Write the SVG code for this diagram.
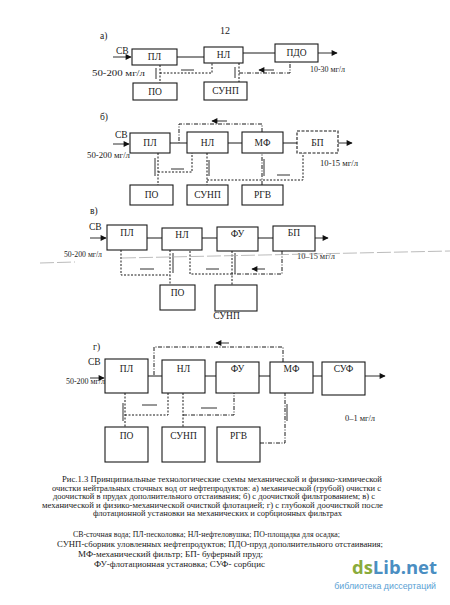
<svg xmlns="http://www.w3.org/2000/svg" width="450" height="605" viewBox="0 0 450 605">
<defs>
<marker id="ah" viewBox="0 0 10 10" refX="9" refY="5" markerUnits="userSpaceOnUse" markerWidth="7" markerHeight="6" orient="auto"><path d="M0,0 L10,5 L0,10 z" fill="#111"/></marker>
</defs>
<style>
text{font-family:"Liberation Serif","Times New Roman",serif;fill:#1a1a1a}
.b rect{fill:none;stroke:#1a1a1a;stroke-width:1.1}
.bd rect{stroke-dasharray:3,1.5}
.lb{font-size:9.5px;text-anchor:middle}
.sm{font-size:8px}
.cap{font-size:8.1px}
.ln{fill:none;stroke:#1a1a1a;stroke-width:1}
.ar{fill:none;stroke:#1a1a1a;stroke-width:0.9;marker-end:url(#ah)}
.dt{fill:none;stroke:#1a1a1a;stroke-width:1;stroke-dasharray:2,1.5}
.dd{fill:none;stroke:#1a1a1a;stroke-width:1;stroke-dasharray:4,1.5,1,1.5}
.fold{fill:none;stroke:#aaa;stroke-width:0.8;stroke-dasharray:14,3}
</style>
<rect width="450" height="605" fill="#fff"/>
<text x="225" y="34" style="font-size:10px;text-anchor:middle">12</text>

<!-- a) -->
<text x="100" y="39" style="font-size:9.5px">а)</text>
<text x="116" y="54" style="font-size:9.5px">СВ</text>
<text x="92" y="76" class="sm" textLength="53" lengthAdjust="spacingAndGlyphs">50-200 мг/л</text>
<text x="310" y="72" class="sm" textLength="35" lengthAdjust="spacingAndGlyphs">10-30 мг/л</text>
<g id="a-pl" class="b"><rect x="132" y="49" width="45" height="16"/><text class="lb" x="154.5" y="60">ПЛ</text></g>
<g id="a-nl" class="b"><rect x="204" y="47" width="39" height="16"/><text class="lb" x="223.5" y="58">НЛ</text></g>
<g id="a-pdo" class="b"><rect x="275" y="44" width="43" height="18"/><text class="lb" x="296.5" y="56">ПДО</text></g>
<g id="a-po" class="b"><rect x="133" y="83" width="44" height="17"/><text class="lb" x="155" y="95">ПО</text></g>
<g id="a-sunp" class="b"><rect x="204" y="82" width="43" height="18"/><text class="lb" x="225.5" y="94">СУНП</text></g>

<!-- b) -->
<text x="100" y="120" style="font-size:9.5px">б)</text>
<text x="115" y="138" style="font-size:9.5px">СВ</text>
<text x="87" y="158" class="sm" textLength="43" lengthAdjust="spacingAndGlyphs">50-200  мг/л</text>
<text x="320" y="166" class="sm" textLength="38" lengthAdjust="spacingAndGlyphs">10-15 мг/л</text>
<g id="b-pl" class="b"><rect x="130" y="133" width="40" height="20"/><text class="lb" x="150" y="146">ПЛ</text></g>
<g id="b-nl" class="b"><rect x="187" y="132" width="41" height="21"/><text class="lb" x="207.5" y="146">НЛ</text></g>
<g id="b-mf" class="b"><rect x="242" y="132" width="41" height="21"/><text class="lb" x="262.5" y="146">МФ</text></g>
<g id="b-bp" class="b bd"><rect x="297" y="131" width="41" height="22"/><text class="lb" x="317.5" y="146">БП</text></g>
<g id="b-po" class="b"><rect x="130" y="185" width="43" height="20"/><text class="lb" x="151.5" y="198">ПО</text></g>
<g id="b-sunp" class="b"><rect x="187" y="185" width="41" height="20"/><text class="lb" x="207.5" y="198">СУНП</text></g>
<g id="b-rgv" class="b"><rect x="242" y="185" width="41" height="20"/><text class="lb" x="262.5" y="198">РГВ</text></g>

<!-- v) -->
<text x="90" y="214" style="font-size:9.5px">в)</text>
<text x="89" y="230" style="font-size:9.5px">СВ</text>
<text x="64" y="257" class="sm" textLength="38" lengthAdjust="spacingAndGlyphs">50-200 мг/л</text>
<text x="297" y="259" class="sm" textLength="38" lengthAdjust="spacingAndGlyphs">10–15 мг/л</text>
<g id="v-pl" class="b"><rect x="107" y="225" width="40" height="25"/><text class="lb" x="127" y="236">ПЛ</text></g>
<g id="v-nl" class="b"><rect x="162" y="228" width="40" height="22"/><text class="lb" x="182" y="238">НЛ</text></g>
<g id="v-fu" class="b"><rect x="217" y="227" width="41" height="24"/><text class="lb" x="237.5" y="237">ФУ</text></g>
<g id="v-bp" class="b"><rect x="273" y="226" width="42" height="25"/><text class="lb" x="294" y="236">БП</text></g>
<g id="v-po" class="b"><rect x="160" y="285" width="35" height="25"/><text class="lb" x="177.5" y="296">ПО</text></g>
<g id="v-sunp" class="b"><rect x="215" y="285" width="42" height="26"/><text class="lb" x="226.5" y="319">СУНП</text></g>

<!-- g) -->
<text x="93" y="350" style="font-size:9.5px">г)</text>
<text x="88" y="365" style="font-size:9.5px">СВ</text>
<text x="66" y="384" class="sm" textLength="39" lengthAdjust="spacingAndGlyphs">50-200 мг/л</text>
<text x="345" y="421" class="sm" textLength="30" lengthAdjust="spacingAndGlyphs">0–1 мг/л</text>
<g id="g-pl" class="b"><rect x="105" y="359" width="43" height="34"/><text class="lb" x="126.5" y="372">ПЛ</text></g>
<g id="g-nl" class="b"><rect x="162" y="360" width="43" height="33"/><text class="lb" x="183.5" y="372">НЛ</text></g>
<g id="g-fu" class="b"><rect x="216" y="362" width="43" height="31"/><text class="lb" x="237.5" y="372">ФУ</text></g>
<g id="g-mf" class="b"><rect x="270" y="362" width="43" height="31"/><text class="lb" x="291.5" y="372">МФ</text></g>
<g id="g-suf" class="b"><rect x="322" y="362" width="43" height="33"/><text class="lb" x="343.5" y="372">СУФ</text></g>
<g id="g-po" class="b"><rect x="105" y="427" width="43" height="35"/><text class="lb" x="126.5" y="439">ПО</text></g>
<g id="g-sunp" class="b"><rect x="162" y="427" width="43" height="35"/><text class="lb" x="183.5" y="439">СУНП</text></g>
<g id="g-rgv" class="b"><rect x="217" y="427" width="43" height="35"/><text class="lb" x="238.5" y="439">РГВ</text></g>

<g id="connectors">
<!-- a -->
<path class="ar" d="M113,57 H131"/>
<path class="ln" d="M177,57 H204 M243,53 H275"/>
<path class="ar" d="M318,53 H337"/>
<path class="dt" d="M160,65 V83 M160,73 H212 V63 M239,63 V82"/>
<path class="dd" d="M239,73 H290 V62"/>
<path class="ar" d="M156,68 V79 M194,70 H181 M235,67 V78 M274,70 H259"/>
<!-- b -->
<path class="ar" d="M113,144 H129"/>
<path class="ln" d="M170,143 H187 M228,143 H242 M283,143 H297"/>
<path class="ar" d="M338,143 H352"/>
<path class="dd" d="M262,132 V124 H179 V143 M262,185 V153"/>
<path class="dt" d="M158,153 V185 M158,172 H192 V153 M207,153 V185 M207,180 H303 V153"/>
<path class="ar" d="M155,158 V176 M184,169 H171 M209,160 V176 M290,175 H277 M264,176 V159 M227,121 H212"/>
<!-- v -->
<path class="ar" d="M90,238 H106"/>
<path class="ln" d="M147,238 H162 M202,238 H217 M258,238 H273"/>
<path class="ar" d="M315,238 H328"/>
<path class="dt" d="M121,250 V275 H170 M170,250 V285 M190,251 V274 H232 M232,251 V285"/>
<path class="dd" d="M282,251 V274 H232"/>
<path class="ar" d="M140,269 H154 M173,253 V273 M206,269 H219 M235,253 V274 M265,269 H252"/>
<!-- g -->
<path class="ar" d="M90,378 H104"/>
<path class="ln" d="M148,376 H162 M205,376 H216 M259,376 H270 M313,376 H322"/>
<path class="ar" d="M365,376 H385"/>
<path class="dd" d="M283,362 V347 H154 V376 M183,415 H234 V393 M260,443 H285 V393"/>
<path class="dt" d="M125,393 V427 M125,415 H168 V393 M183,393 V427"/>
<path class="ar" d="M123,403 V421 M157,405 H142 M217,408 H201 M287,421 V404 M229,343 H216"/>
</g>

<path class="fold" d="M40,263 L75,262 M122,258 L450,251"/>

<g id="caption" class="cap">
<text x="62" y="482" textLength="320" lengthAdjust="spacingAndGlyphs">Рис.1.3 Принципиальные технологические схемы механической и физико-химической</text>
<text x="52" y="490.5" textLength="329" lengthAdjust="spacingAndGlyphs">очистки нейтральных сточных вод от нефтепродуктов: а) механической (грубой) очистки с</text>
<text x="53" y="499" textLength="322" lengthAdjust="spacingAndGlyphs">доочисткой в прудах дополнительного отстаивания; б) с доочисткой фильтрованием; в) с</text>
<text x="42" y="507.5" textLength="341" lengthAdjust="spacingAndGlyphs">механической и физико-механической очисткой флотацией; г) с глубокой доочисткой после</text>
<text x="93" y="516" textLength="249" lengthAdjust="spacingAndGlyphs">флотационной установки на механических и сорбционных фильтрах</text>
<text x="73" y="537" textLength="267" lengthAdjust="spacingAndGlyphs">СВ-сточная вода; ПЛ-песколовка; НЛ-нефтеловушка; ПО-площадка для осадка;</text>
<text x="57" y="547" textLength="326" lengthAdjust="spacingAndGlyphs">СУНП-сборник уловленных нефтепродуктов; ПДО-пруд дополнительного отстаивания;</text>
<text x="78" y="557" textLength="185" lengthAdjust="spacingAndGlyphs">МФ-механический фильтр; БП- буферный пруд;</text>
<text x="94" y="567" textLength="171" lengthAdjust="spacingAndGlyphs">ФУ-флотационная установка; СУФ- сорбцис</text>
</g>

<g id="watermark">
<text x="352" y="574" style="font-family:'Open Sans','DejaVu Sans',sans-serif;font-weight:bold;font-size:17px" textLength="85" lengthAdjust="spacingAndGlyphs"><tspan fill="#8aab3c">ds</tspan><tspan fill="#4a8ec2">Lib.net</tspan></text>
<text x="436" y="589" style="font-family:'Liberation Sans',Arial,sans-serif;font-size:8.8px;fill:#5a9fd4;text-anchor:end">библиотека диссертаций</text>
</g>
</svg>
